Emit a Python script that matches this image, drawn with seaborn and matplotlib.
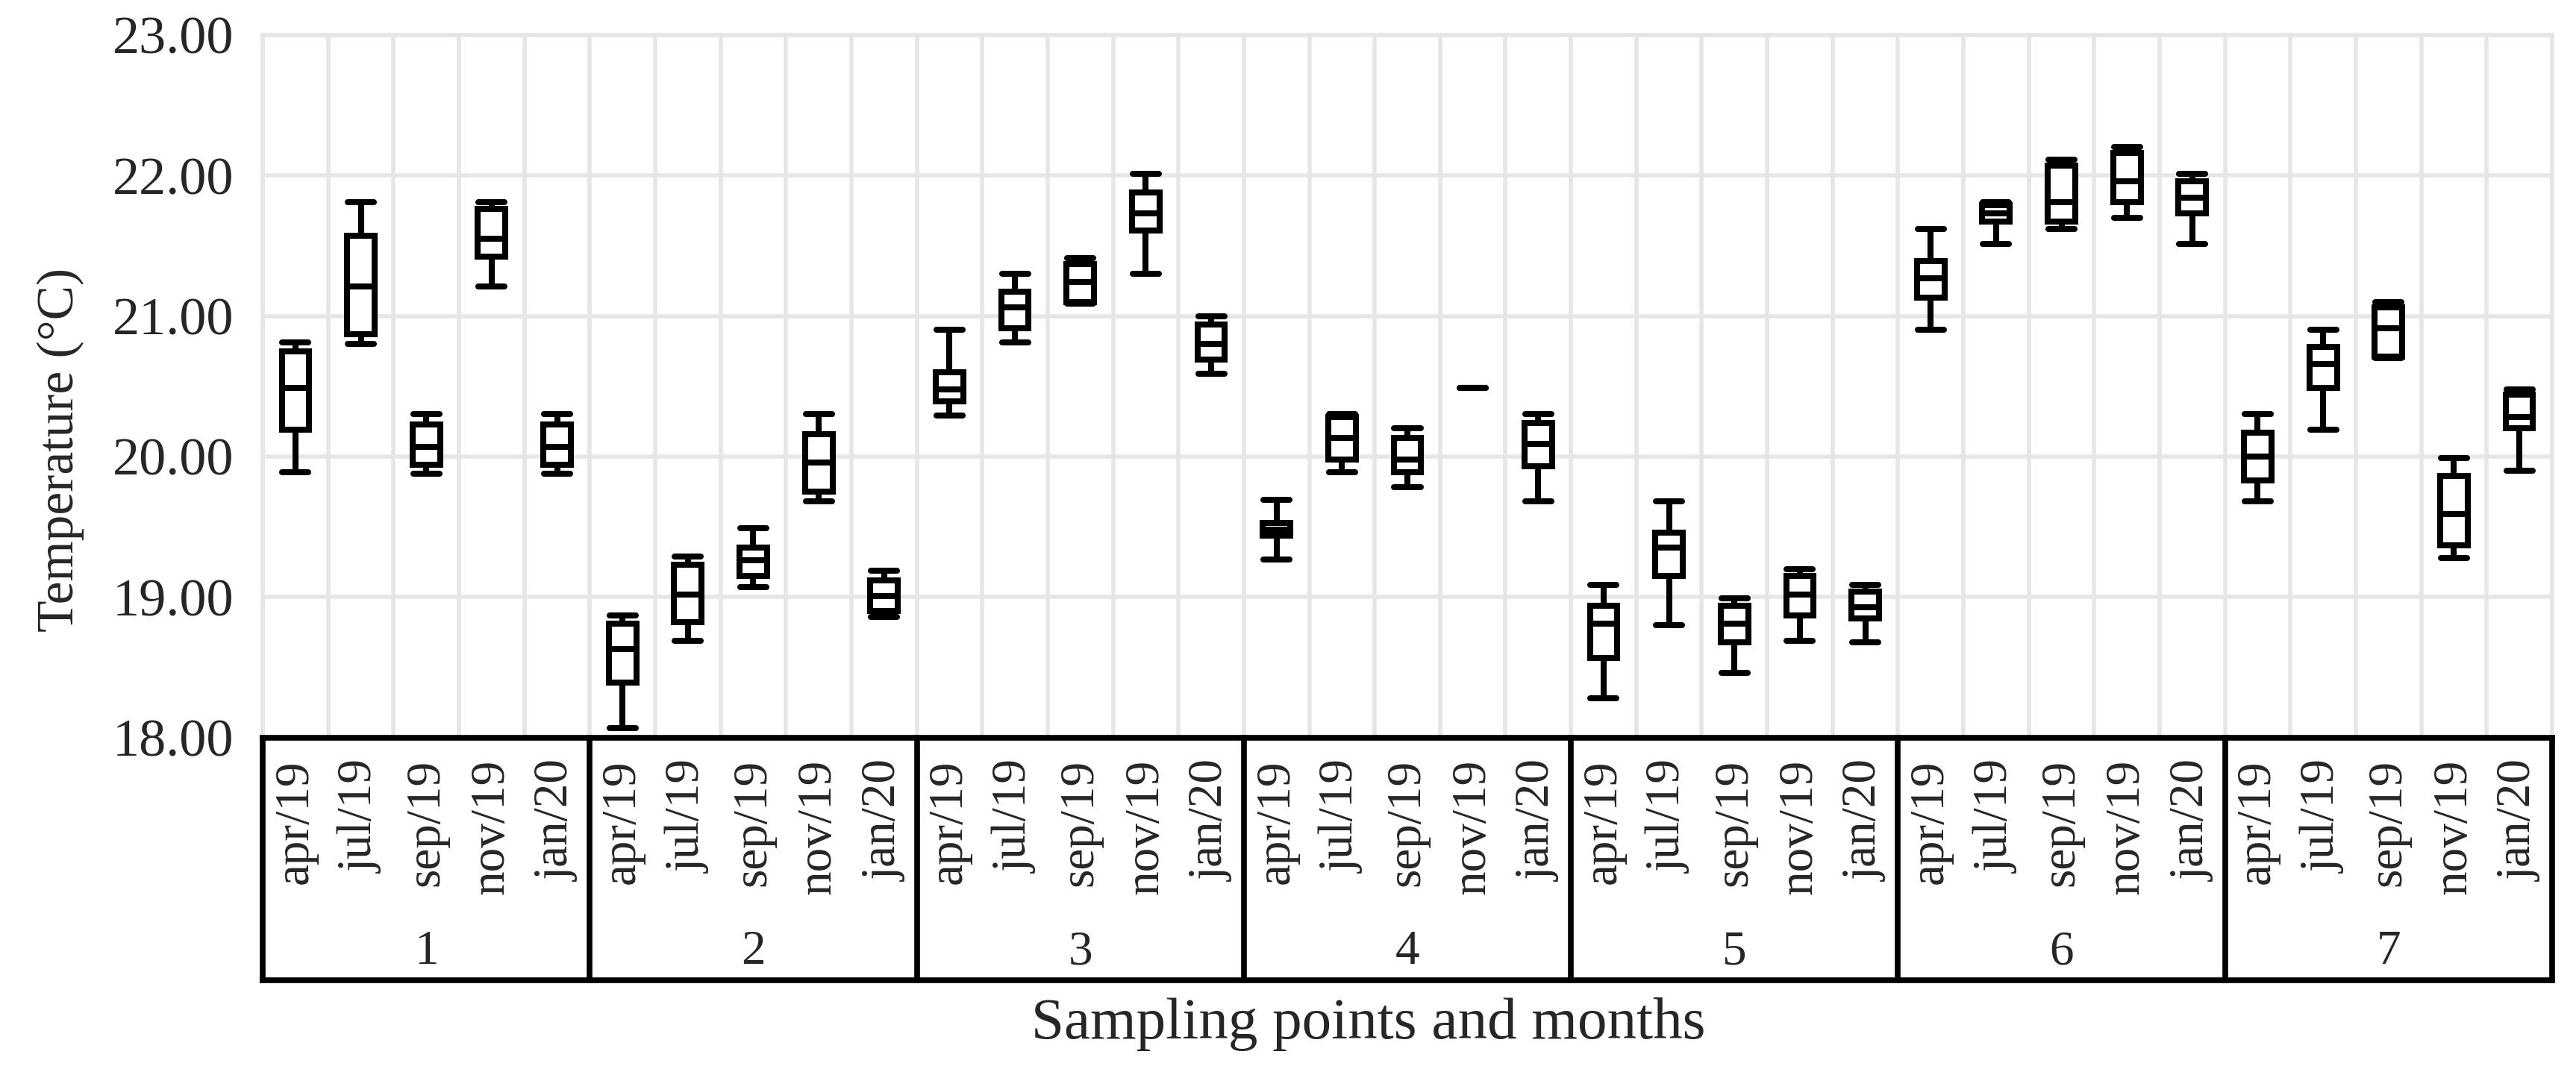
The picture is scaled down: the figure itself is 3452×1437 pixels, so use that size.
import numpy as np
import pandas as pd
import matplotlib
matplotlib.use("Agg")
import matplotlib.pyplot as plt
import matplotlib.transforms as mtransforms
from matplotlib.ticker import FormatStrFormatter
import seaborn as sns

sns.set_style("white")
plt.rcParams["font.family"] = ["Liberation Serif", "DejaVu Serif"]

# ---------------- data ----------------
points = ["1", "2", "3", "4", "5", "6", "7"]
months = ["apr/19", "jul/19", "sep/19", "nov/19", "jan/20"]

whisker_low = [19.89, 20.80, 19.88, 21.21, 19.88,
               18.07, 18.69, 19.07, 19.68, 18.86,
               20.29, 20.81, 21.09, 21.30, 20.59,
               19.27, 19.89, 19.78, 20.49, 19.68,
               18.28, 18.80, 18.46, 18.69, 18.68,
               20.90, 21.51, 21.62, 21.70, 21.51,
               19.68, 20.19, 20.70, 19.28, 19.90]
q1 = [20.19, 20.87, 19.94, 21.42, 19.94,
      18.39, 18.82, 19.15, 19.75, 18.90,
      20.39, 20.91, 21.10, 21.61, 20.69,
      19.44, 19.98, 19.89, 20.49, 19.93,
      18.57, 19.15, 18.68, 18.87, 18.85,
      21.13, 21.67, 21.67, 21.81, 21.73,
      19.83, 20.49, 20.71, 19.37, 20.20]
median = [20.49, 21.21, 20.07, 21.55, 20.07,
          18.63, 19.02, 19.26, 19.96, 19.01,
          20.48, 21.06, 21.24, 21.73, 20.80,
          19.48, 20.13, 19.98, 20.49, 20.09,
          18.81, 19.35, 18.81, 19.02, 18.93,
          21.27, 21.73, 21.81, 21.96, 21.84,
          20.00, 20.66, 20.91, 19.59, 20.28]
q3 = [20.75, 21.57, 20.23, 21.76, 20.23,
      18.81, 19.23, 19.35, 20.16, 19.12,
      20.60, 21.17, 21.37, 21.88, 20.94,
      19.53, 20.28, 20.13, 20.49, 20.24,
      18.94, 19.46, 18.94, 19.15, 19.04,
      21.39, 21.79, 22.07, 22.16, 21.96,
      20.17, 20.78, 21.06, 19.86, 20.44]
whisker_high = [20.81, 21.81, 20.30, 21.81, 20.30,
                18.87, 19.29, 19.49, 20.30, 19.19,
                20.90, 21.30, 21.41, 22.01, 21.00,
                19.69, 20.30, 20.20, 20.49, 20.30,
                19.09, 19.68, 18.99, 19.20, 19.09,
                21.62, 21.81, 22.11, 22.20, 22.01,
                20.30, 20.90, 21.10, 19.99, 20.48]

y_ticks = [18, 19, 20, 21, 22, 23]

# ---------------- long table for seaborn ----------------
keys = [f"{p}|{m}" for p in points for m in months]
rows = []
for i, k in enumerate(keys):
    for v in (whisker_low[i], q1[i], median[i], q3[i], whisker_high[i]):
        rows.append({"key": k, "temp": v})
df = pd.DataFrame(rows)

# ---------------- figure ----------------
fig = plt.figure(figsize=(34.52, 14.37), dpi=100)
ax = fig.add_axes([0.1020, 0.3118, 0.8887, 0.6558])

sns.boxplot(data=df, x="key", y="temp", order=keys, width=0.42,
            whis=(0, 100), color="white", linecolor="black",
            linewidth=5.8, saturation=1, capwidths=0.40, ax=ax)

grid_c = "#e6e6e6"
ax.set_axisbelow(True)
ax.set_yticks(y_ticks)
ax.yaxis.set_major_formatter(FormatStrFormatter("%.2f"))
ax.set_xticks(range(len(keys)))
ax.set_xticklabels(months * len(points), rotation=90)
ax.set_xticks(np.arange(-0.5, len(keys), 1.0), minor=True)
ax.grid(which="major", axis="y", color=grid_c, lw=4)
ax.grid(which="minor", axis="x", color=grid_c, lw=4)
ax.grid(which="major", axis="x", visible=False)
ax.tick_params(axis="x", which="both", length=0, pad=21, labelsize=47)
ax.tick_params(axis="y", length=0, pad=28, labelsize=52)

for s in ("left", "top", "right"):
    ax.spines[s].set_color(grid_c)
    ax.spines[s].set_linewidth(4)
ax.spines["bottom"].set_color("black")
ax.spines["bottom"].set_linewidth(5.5)

# group table below the axis
trans = mtransforms.blended_transform_factory(ax.transData, ax.transAxes)
box_bottom = -0.345
n = len(keys)
ax.plot([-0.5, n - 0.5], [box_bottom, box_bottom], transform=trans,
        color="black", lw=5.5, clip_on=False, solid_capstyle="projecting")
for b in np.arange(-0.5, n, len(months)):
    ax.plot([b, b], [0, box_bottom], transform=trans, color="black",
            lw=5.5, clip_on=False, solid_capstyle="projecting")
for gi, p in enumerate(points):
    ax.text(gi * len(months) + (len(months) - 1) / 2, -0.305, p,
            transform=trans, ha="center", va="center", fontsize=47)

ax.set_xlim(-0.5, n - 0.5)
ax.set_ylim(18, 23)

ax.set_xlabel("Sampling points and months", fontsize=57)
ax.xaxis.set_label_coords(0.483, -0.369)
ax.set_ylabel("Temperature (°C)", fontsize=50)
ax.yaxis.set_label_coords(-0.078, 0.41)

fig.savefig("out.png", dpi=100)
